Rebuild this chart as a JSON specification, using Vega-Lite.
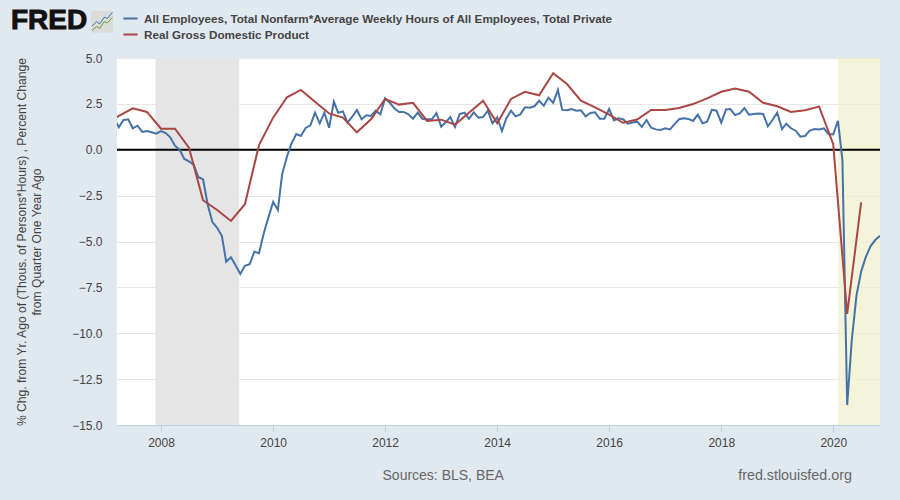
{"$schema":"https://vega.github.io/schema/vega-lite/v6.json","autosize":"none","width":763,"height":367,"padding":{"left":117,"top":58,"right":20,"bottom":75},"background":"#e1e9f0","view":{"fill":"#ffffff","stroke":null},
"config":{"font":"Liberation Sans"},
"layer":[
{"data":{"values":[{"start":"2007/11/26","end":"2009/05/25"}]},"mark":{"type":"rect","color":"#e5e5e5"},"encoding":{"x":{"field":"start","type":"temporal","scale":{"domain":[{"year":2007,"month":3,"date":20},{"year":2020,"month":11,"date":1}]},"axis":{"title":null,"format":"%Y","tickCount":{"interval":"year","step":2},"grid":false,"domainColor":"#c0d0e0","tickColor":"#c0d0e0","tickSize":7,"labelFontSize":12,"labelColor":"#444444","labelPadding":5,"labelFlush":false}},"x2":{"field":"end"},"y":{"datum":5,"type":"quantitative","scale":{"domain":[-15,5],"nice":false},"axis":{"title":["% Chg. from Yr. Ago of (Thous. of Persons*Hours) , Percent Change","from Quarter One Year Ago"],"titleFontSize":12.15,"titleFontWeight":"normal","titleColor":"#444444","titleLineHeight":15,"titlePadding":28,"values":[5,2.5,0,-2.5,-5,-7.5,-10,-12.5,-15],"format":".1f","ticks":false,"domain":false,"labelPadding":15,"grid":true,"gridColor":"#e6e6e6","gridWidth":1,"labelFontSize":12,"labelColor":"#444444"}},"y2":{"datum":-15}}},
{"data":{"values":[{"start":"2020/02/01","end":"2020/11/01"}]},"mark":{"type":"rect","color":"#efefca","opacity":0.7},"encoding":{"x":{"field":"start","type":"temporal"},"x2":{"field":"end"},"y":{"datum":5,"type":"quantitative"},"y2":{"datum":-15}}},
{"data":{"values":[{}]},"mark":{"type":"rule","color":"#000000","strokeWidth":2},"encoding":{"y":{"datum":0,"type":"quantitative"}}},
{"data":{"values":[
{"date":"2007/03/01","value":1.71},{"date":"2007/04/01","value":1.22},{"date":"2007/05/01","value":1.62},{"date":"2007/06/01","value":1.66},{"date":"2007/07/01","value":1.17},{"date":"2007/08/01","value":1.31},{"date":"2007/09/01","value":0.97},{"date":"2007/10/01","value":1.02},{"date":"2007/11/01","value":0.95},{"date":"2007/12/01","value":0.88},
{"date":"2008/01/01","value":1.02},{"date":"2008/02/01","value":0.91},{"date":"2008/03/01","value":0.68},{"date":"2008/04/01","value":0.22},{"date":"2008/05/01","value":0.0},{"date":"2008/06/01","value":-0.5},{"date":"2008/07/01","value":-0.63},{"date":"2008/08/01","value":-0.81},{"date":"2008/09/01","value":-1.5},{"date":"2008/10/01","value":-1.61},{"date":"2008/11/01","value":-3.01},{"date":"2008/12/01","value":-3.94},
{"date":"2009/01/01","value":-4.25},{"date":"2009/02/01","value":-4.7},{"date":"2009/03/01","value":-6.1},{"date":"2009/04/01","value":-5.86},{"date":"2009/05/01","value":-6.3},{"date":"2009/06/01","value":-6.77},{"date":"2009/07/01","value":-6.32},{"date":"2009/08/01","value":-6.24},{"date":"2009/09/01","value":-5.55},{"date":"2009/10/01","value":-5.64},{"date":"2009/11/01","value":-4.55},{"date":"2009/12/01","value":-3.7},
{"date":"2010/01/01","value":-2.85},{"date":"2010/02/01","value":-3.28},{"date":"2010/03/01","value":-1.32},{"date":"2010/04/01","value":-0.38},{"date":"2010/05/01","value":0.35},{"date":"2010/06/01","value":0.86},{"date":"2010/07/01","value":0.75},{"date":"2010/08/01","value":1.19},{"date":"2010/09/01","value":1.33},{"date":"2010/10/01","value":2.02},{"date":"2010/11/01","value":1.44},{"date":"2010/12/01","value":2.02},
{"date":"2011/01/01","value":1.2},{"date":"2011/02/01","value":2.62},{"date":"2011/03/01","value":2.02},{"date":"2011/04/01","value":2.09},{"date":"2011/05/01","value":1.48},{"date":"2011/06/01","value":1.8},{"date":"2011/07/01","value":2.17},{"date":"2011/08/01","value":1.66},{"date":"2011/09/01","value":1.88},{"date":"2011/10/01","value":1.84},{"date":"2011/11/01","value":2.13},{"date":"2011/12/01","value":1.93},
{"date":"2012/01/01","value":2.8},{"date":"2012/02/01","value":2.56},{"date":"2012/03/01","value":2.26},{"date":"2012/04/01","value":2.06},{"date":"2012/05/01","value":2.06},{"date":"2012/06/01","value":1.93},{"date":"2012/07/01","value":1.69},{"date":"2012/08/01","value":2.02},{"date":"2012/09/01","value":1.68},{"date":"2012/10/01","value":1.66},{"date":"2012/11/01","value":1.66},{"date":"2012/12/01","value":2.0},
{"date":"2013/01/01","value":1.26},{"date":"2013/02/01","value":1.51},{"date":"2013/03/01","value":1.78},{"date":"2013/04/01","value":1.24},{"date":"2013/05/01","value":1.95},{"date":"2013/06/01","value":2.02},{"date":"2013/07/01","value":1.69},{"date":"2013/08/01","value":2.04},{"date":"2013/09/01","value":1.75},{"date":"2013/10/01","value":1.78},{"date":"2013/11/01","value":2.13},{"date":"2013/12/01","value":1.44},
{"date":"2014/01/01","value":1.77},{"date":"2014/02/01","value":1.02},{"date":"2014/03/01","value":1.71},{"date":"2014/04/01","value":2.13},{"date":"2014/05/01","value":1.82},{"date":"2014/06/01","value":1.93},{"date":"2014/07/01","value":2.31},{"date":"2014/08/01","value":2.29},{"date":"2014/09/01","value":2.37},{"date":"2014/10/01","value":2.67},{"date":"2014/11/01","value":2.4},{"date":"2014/12/01","value":2.84},
{"date":"2015/01/01","value":2.55},{"date":"2015/02/01","value":3.26},{"date":"2015/03/01","value":2.17},{"date":"2015/04/01","value":2.15},{"date":"2015/05/01","value":2.22},{"date":"2015/06/01","value":2.13},{"date":"2015/07/01","value":2.15},{"date":"2015/08/01","value":1.82},{"date":"2015/09/01","value":2.0},{"date":"2015/10/01","value":2.04},{"date":"2015/11/01","value":1.69},{"date":"2015/12/01","value":1.69},
{"date":"2016/01/01","value":2.22},{"date":"2016/02/01","value":1.6},{"date":"2016/03/01","value":1.71},{"date":"2016/04/01","value":1.66},{"date":"2016/05/01","value":1.42},{"date":"2016/06/01","value":1.48},{"date":"2016/07/01","value":1.53},{"date":"2016/08/01","value":1.24},{"date":"2016/09/01","value":1.62},{"date":"2016/10/01","value":1.2},{"date":"2016/11/01","value":1.11},{"date":"2016/12/01","value":1.08},
{"date":"2017/01/01","value":1.17},{"date":"2017/02/01","value":1.11},{"date":"2017/03/01","value":1.38},{"date":"2017/04/01","value":1.66},{"date":"2017/05/01","value":1.71},{"date":"2017/06/01","value":1.68},{"date":"2017/07/01","value":1.57},{"date":"2017/08/01","value":1.91},{"date":"2017/09/01","value":1.44},{"date":"2017/10/01","value":1.53},{"date":"2017/11/01","value":2.18},{"date":"2017/12/01","value":2.13},
{"date":"2018/01/01","value":1.48},{"date":"2018/02/01","value":2.2},{"date":"2018/03/01","value":2.22},{"date":"2018/04/01","value":1.89},{"date":"2018/05/01","value":1.98},{"date":"2018/06/01","value":2.27},{"date":"2018/07/01","value":1.91},{"date":"2018/08/01","value":1.95},{"date":"2018/09/01","value":1.98},{"date":"2018/10/01","value":1.95},{"date":"2018/11/01","value":1.28},{"date":"2018/12/01","value":1.62},
{"date":"2019/01/01","value":2.02},{"date":"2019/02/01","value":1.13},{"date":"2019/03/01","value":1.42},{"date":"2019/04/01","value":1.17},{"date":"2019/05/01","value":1.04},{"date":"2019/06/01","value":0.71},{"date":"2019/07/01","value":0.75},{"date":"2019/08/01","value":1.04},{"date":"2019/09/01","value":1.13},{"date":"2019/10/01","value":1.11},{"date":"2019/11/01","value":1.17},{"date":"2019/12/01","value":0.86},
{"date":"2020/01/01","value":0.84},{"date":"2020/02/01","value":1.58},{"date":"2020/03/01","value":-0.56},{"date":"2020/04/01","value":-13.91},{"date":"2020/05/01","value":-10.37},{"date":"2020/06/01","value":-7.92},{"date":"2020/07/01","value":-6.64},{"date":"2020/08/01","value":-5.83},{"date":"2020/09/01","value":-5.25},{"date":"2020/10/01","value":-4.92},{"date":"2020/11/01","value":-4.68}
]},"mark":{"type":"line","strokeWidth":2,"clip":true},"encoding":{"x":{"field":"date","type":"temporal"},"y":{"field":"value","type":"quantitative"},"color":{"datum":"All Employees, Total Nonfarm*Average Weekly Hours of All Employees, Total Private","scale":{"domain":["All Employees, Total Nonfarm*Average Weekly Hours of All Employees, Total Private","Real Gross Domestic Product"],"range":["#4572a7","#aa4643"]},"legend":{"title":null,"orient":"none","legendX":5,"legendY":-48,"symbolType":"stroke","symbolStrokeWidth":2,"symbolSize":200,"labelFontSize":11.7,"labelFontWeight":"bold","labelColor":"#444444","labelLimit":700,"rowPadding":-1,"symbolOffset":0,"labelOffset":5}}}},
{"data":{"values":[
{"date":"2007/01/01","value":1.3},{"date":"2007/04/01","value":1.85},{"date":"2007/07/01","value":2.26},{"date":"2007/10/01","value":2.06},
{"date":"2008/01/01","value":1.15},{"date":"2008/04/01","value":1.15},{"date":"2008/07/01","value":0.11},{"date":"2008/10/01","value":-2.75},
{"date":"2009/01/01","value":-3.28},{"date":"2009/04/01","value":-3.88},{"date":"2009/07/01","value":-2.97},{"date":"2009/10/01","value":0.26},
{"date":"2010/01/01","value":1.75},{"date":"2010/04/01","value":2.86},{"date":"2010/07/01","value":3.26},{"date":"2010/10/01","value":2.62},
{"date":"2011/01/01","value":1.98},{"date":"2011/04/01","value":1.75},{"date":"2011/07/01","value":0.95},{"date":"2011/10/01","value":1.66},
{"date":"2012/01/01","value":2.77},{"date":"2012/04/01","value":2.46},{"date":"2012/07/01","value":2.56},{"date":"2012/10/01","value":1.57},
{"date":"2013/01/01","value":1.64},{"date":"2013/04/01","value":1.37},{"date":"2013/07/01","value":2.02},{"date":"2013/10/01","value":2.67},
{"date":"2014/01/01","value":1.44},{"date":"2014/04/01","value":2.77},{"date":"2014/07/01","value":3.16},{"date":"2014/10/01","value":2.97},
{"date":"2015/01/01","value":4.17},{"date":"2015/04/01","value":3.58},{"date":"2015/07/01","value":2.67},{"date":"2015/10/01","value":2.31},
{"date":"2016/01/01","value":1.91},{"date":"2016/04/01","value":1.47},{"date":"2016/07/01","value":1.65},{"date":"2016/10/01","value":2.17},
{"date":"2017/01/01","value":2.17},{"date":"2017/04/01","value":2.28},{"date":"2017/07/01","value":2.49},{"date":"2017/10/01","value":2.8},
{"date":"2018/01/01","value":3.16},{"date":"2018/04/01","value":3.34},{"date":"2018/07/01","value":3.16},{"date":"2018/10/01","value":2.56},
{"date":"2019/01/01","value":2.37},{"date":"2019/04/01","value":2.06},{"date":"2019/07/01","value":2.15},{"date":"2019/10/01","value":2.35},
{"date":"2020/01/01","value":0.3},{"date":"2020/04/01","value":-8.95},{"date":"2020/07/01","value":-2.87}
]},"mark":{"type":"line","strokeWidth":2,"clip":true},"encoding":{"x":{"field":"date","type":"temporal"},"y":{"field":"value","type":"quantitative"},"color":{"datum":"Real Gross Domestic Product"}}},
{"data":{"values":[{}]},"mark":{"type":"text","fontSize":14,"color":"#666666"},"encoding":{"text":{"value":"Sources: BLS, BEA"},"x":{"datum":{"year":2013,"month":1,"date":14},"type":"temporal"},"y":{"datum":-17.77,"type":"quantitative"}}},
{"data":{"values":[{}]},"mark":{"type":"text","fontSize":14.3,"color":"#666666"},"encoding":{"text":{"value":"fred.stlouisfed.org"},"x":{"datum":{"year":2019,"month":4,"date":27},"type":"temporal"},"y":{"datum":-17.77,"type":"quantitative"}}},
{"data":{"values":[{}]},"mark":{"type":"text","fontSize":28,"fontWeight":"bold","color":"#111111","stroke":"#111111","strokeWidth":1},"encoding":{"text":{"value":"FRED"},"x":{"datum":{"year":2006,"month":1,"date":1},"type":"temporal"},"y":{"datum":7.04,"type":"quantitative"}}},
{"data":{"values":[{}]},"mark":{"type":"point","filled":true,"color":"#d9dcd8","opacity":1,"size":484,"shape":"M-0.8,-1H0.8Q1,-1 1,-0.8V0.8Q1,1 0.8,1H-0.8Q-1,1 -1,0.8V-0.8Q-1,-1 -0.8,-1Z"},"encoding":{"x":{"datum":{"year":2006,"month":12,"date":12},"type":"temporal"},"y":{"datum":6.98,"type":"quantitative"}}},
{"data":{"values":[{}]},"mark":{"type":"point","filled":false,"color":"#4572a7","opacity":1,"strokeWidth":1,"size":484,"shape":"M-0.9,0.4L-0.5,0L-0.2,0.2L0.2,-0.4L0.5,-0.3L0.95,-0.85"},"encoding":{"x":{"datum":{"year":2006,"month":12,"date":12},"type":"temporal"},"y":{"datum":6.98,"type":"quantitative"}}},
{"data":{"values":[{}]},"mark":{"type":"point","filled":false,"color":"#6f9e3c","opacity":1,"strokeWidth":1,"size":484,"shape":"M-0.9,0.8L-0.5,0.45L-0.2,0.6L0.2,0L0.5,0.1L0.95,-0.4"},"encoding":{"x":{"datum":{"year":2006,"month":12,"date":12},"type":"temporal"},"y":{"datum":6.98,"type":"quantitative"}}}
]}
